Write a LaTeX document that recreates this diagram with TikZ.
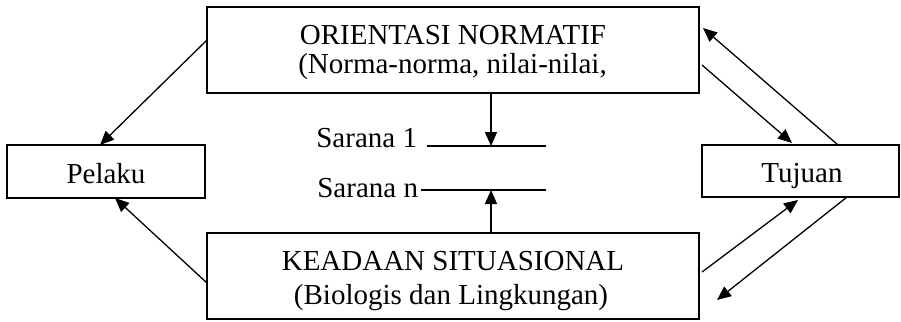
\documentclass[tikz,border=0pt]{standalone}
\usepackage{fontspec}
\setmainfont{Liberation Serif}
\usetikzlibrary{arrows.meta,calc}
\begin{document}
\begin{tikzpicture}[x=1pt,y=-1pt,
  box/.style={draw,line width=1.4pt,inner sep=0pt,outer sep=0pt},
  lbl/.style={inner sep=0pt,outer sep=0pt,anchor=base,font=\fontsize{29}{34}\selectfont},
  conn/.style={line width=1.3pt,-{Triangle[length=14pt,width=12pt]}},
  bar/.style={line width=1.3pt}]
\useasboundingbox (0,0) rectangle (901,321);
% boxes
\node[box,minimum width=492pt,minimum height=86pt] (top) at (453,50) {};
\node[box,minimum width=492pt,minimum height=86pt] (bot) at (453,276) {};
\node[box,minimum width=198pt,minimum height=53pt] (pel) at (106,171.5) {};
\node[box,minimum width=197pt,minimum height=52pt] (tuj) at (800.5,171) {};
% texts
\node[lbl] (t1) at (453,45) {ORIENTASI NORMATIF};
\node[lbl] (t2) at (452.5,73) {(Norma-norma, nilai-nilai,};
\node[lbl] (b1) at (453,270) {KEADAAN SITUASIONAL};
\node[lbl] (b2) at (451,304) {(Biologis dan Lingkungan)};
\node[lbl] (pl) at (106,183) {Pelaku};
\node[lbl] (tj) at (802,182) {Tujuan};
\node[lbl,anchor=base east] (s1) at (417,147) {Sarana 1};
\node[lbl,anchor=base east] (sn) at (418,197.5) {Sarana n};
% sarana lines
\coordinate (s1a) at (427,146);
\coordinate (s1b) at (546,146);
\coordinate (sna) at (421,190);
\coordinate (snb) at (546,190);
\draw[bar] (s1a) -- (s1b);
\draw[bar] (sna) -- (snb);
\coordinate (s1m) at (491,146);
\coordinate (snm) at (491,190);
\draw[conn] ([xshift=38pt]top.south) -- (s1m);
\draw[conn] ([xshift=38pt]bot.north) -- (snm);
% left arrows
\draw[conn] ([yshift=10pt]top.west) -- ([xshift=-6pt]pel.north);
\draw[conn] ([yshift=-7pt]bot.west) -- ([xshift=9pt]pel.south);
% right arrows
\draw[conn] ([xshift=37.5pt]tuj.north) -- ([xshift=4pt,yshift=22pt]top.east);
\draw[conn] ([xshift=3pt,yshift=-15pt]top.east) -- ([xshift=-8.5pt,yshift=2pt]tuj.north);
\draw[conn] ([xshift=3pt,yshift=4pt]bot.east) -- ([xshift=-2.5pt,yshift=-3pt]tuj.south);
\draw[conn] ([xshift=46.5pt]tuj.south) -- ([xshift=18pt,yshift=-24pt]bot.east);
\end{tikzpicture}
\end{document}
